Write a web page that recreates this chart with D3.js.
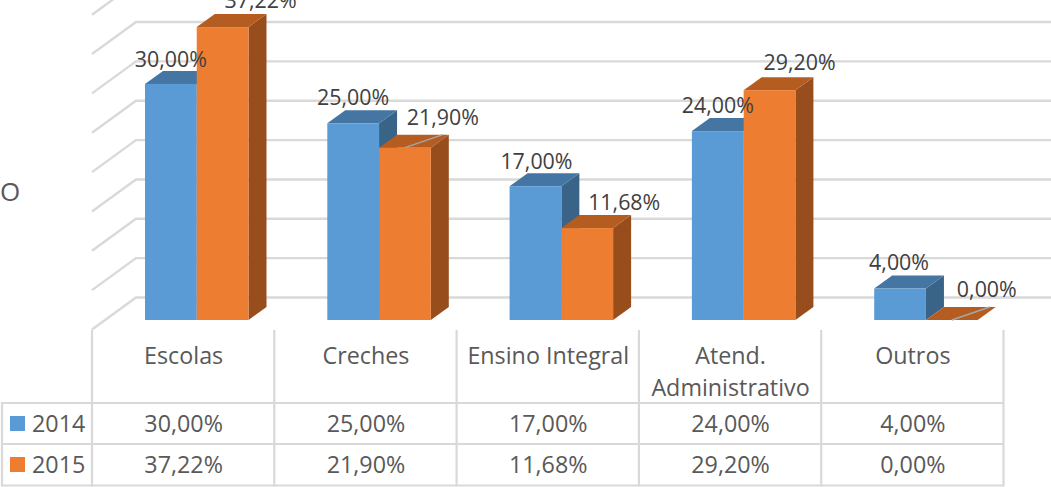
<!DOCTYPE html>
<html><head><meta charset="utf-8">
<script src="https://cdn.jsdelivr.net/npm/d3@7"></script>
<style>html,body{margin:0;padding:0;background:#fff;overflow:hidden}svg{display:block}text{font-family:"Open Sans",sans-serif}</style>
</head><body><div id="c"></div>
<script>
const categories = ["Escolas","Creches","Ensino Integral","Atend. Administrativo","Outros"];
const seriesNames = ["2014","2015"];
const values2014 = [30.00,25.00,17.00,24.00,4.00];
const values2015 = [37.22,21.90,11.68,29.20,0.00];
const gridTicks = [0,5,10,15,20,25,30,35,40];

const W=1051,H=487;
const svg=d3.select("#c").append("svg").attr("width",W).attr("height",H);
const fmt=v=>v.toFixed(2).replace(".",",")+"%";
const series=[
 {name:seriesNames[0],values:values2014,front:"#5B9BD5",top:"#4575A2",side:"#3A6388"},
 {name:seriesNames[1],values:values2015,front:"#ED7D31",top:"#B55D21",side:"#974D1C"}];

const x=d3.scaleBand().domain(categories).range([92,1003.5]);
const y=d3.scaleLinear().domain([0,40]).range([320,5.2]);
const inner=d3.scaleBand().domain(seriesNames).range([53,156.5]);
const depthX=18,depthY=13;          // bar depth
const gapX=13,gapY=9.5;             // floor margin in front of / behind the bars
const grid=svg.append("g").attr("stroke","#D9D9D9").attr("stroke-width",2.4).attr("fill","none");
gridTicks.forEach(t=>{
  const yb=y(t)-depthY-gapY, yf=y(t)+gapY, xb=92+depthX+2*gapX;
  grid.append("path").attr("d",`M92,${yf}L${xb},${yb}L${W},${yb}`);
});

const bars=svg.append("g");
const labels=[];
const nudges=[[[0,-17],[38,-19]],[[0,-18],[38,-23]],[[1,-17],[37,-18]],[[0,-18],[30,-20]],[[-1,-19],[35,-23]]];
categories.forEach((c,i)=>{
  series.forEach((s,j)=>{
    const x0=x(c)+inner(s.name), bw=inner.bandwidth(), v=s.values[i], t=y(v), b=y(0), x1=x0+bw;
    const g=bars.append("g");
    g.append("path").attr("fill",s.side).attr("d",`M${x1},${t}L${x1+depthX},${t-depthY}L${x1+depthX},${b-depthY}L${x1},${b}Z`);
    g.append("path").attr("fill",s.top).attr("d",`M${x0},${t}L${x0+depthX},${t-depthY}L${x1+depthX},${t-depthY}L${x1},${t}Z`);
    if(v>0) g.append("rect").attr("x",x0).attr("y",t).attr("width",bw).attr("height",b-t).attr("fill",s.front);
    const n=nudges[i][j];
    labels.push({x:x0+bw/2+n[0],y:t+n[1],t:fmt(v),cx:x0+bw/2,top:t,lead:j===1&&(i===1||i===4)});
  });
});
labels.filter(l=>l.lead).forEach(l=>{
  svg.append("line").attr("x1",l.cx-0).attr("y1",l.top).attr("x2",l.cx+depthX+20).attr("y2",l.top-depthY)
   .attr("stroke","#A6A6A6").attr("stroke-width",1.5);
});
svg.append("g").selectAll("text").data(labels).join("text")
  .attr("x",d=>d.x).attr("y",d=>d.y).attr("text-anchor","middle")
  .attr("font-size",21.4).attr("fill","#404040").text(d=>d.t);

// data table
const rowY=[403,444,485.5];
const tg=svg.append("g").attr("stroke","#D9D9D9").attr("stroke-width",2.2).attr("fill","none");
const edges=[...categories.map(c=>x(c)),x.range()[1]];
edges.forEach(e=>tg.append("line").attr("x1",e).attr("x2",e).attr("y1",330).attr("y2",rowY[2]+1));
tg.append("line").attr("x1",2).attr("x2",2).attr("y1",rowY[0]-1).attr("y2",rowY[2]+1);
rowY.forEach(r=>tg.append("line").attr("x1",2).attr("x2",x.range()[1]).attr("y1",r).attr("y2",r));

const tc="#595959",fs=23.3;
categories.forEach(c=>{
  const cx=x(c)+x.bandwidth()/2+0.5;
  if(c.startsWith("Atend")){
    const p=c.split(" ");
    svg.append("text").attr("x",cx).attr("y",364).attr("text-anchor","middle").attr("font-size",fs).attr("fill",tc).text(p[0]);
    svg.append("text").attr("x",cx).attr("y",396).attr("text-anchor","middle").attr("font-size",fs).attr("fill",tc).text(p[1]);
  } else {
    svg.append("text").attr("x",cx).attr("y",364).attr("text-anchor","middle").attr("font-size",fs).attr("fill",tc).text(c);
  }
});
series.forEach((s,j)=>{
  const base=[431.5,472.5][j];
  svg.append("rect").attr("x",10).attr("y",base-15.5).attr("width",15).attr("height",15).attr("fill",s.front);
  svg.append("text").attr("x",32).attr("y",base).attr("font-size",fs).attr("fill",tc).text(s.name);
  categories.forEach((c,i)=>svg.append("text").attr("x",x(c)+x.bandwidth()/2+0.5).attr("y",base)
    .attr("text-anchor","middle").attr("font-size",fs).attr("fill",tc).text(fmt(s.values[i])));
});
svg.append("text").attr("x",0).attr("y",201).attr("font-size",26).attr("fill",tc).text("O");
</script></body></html>
